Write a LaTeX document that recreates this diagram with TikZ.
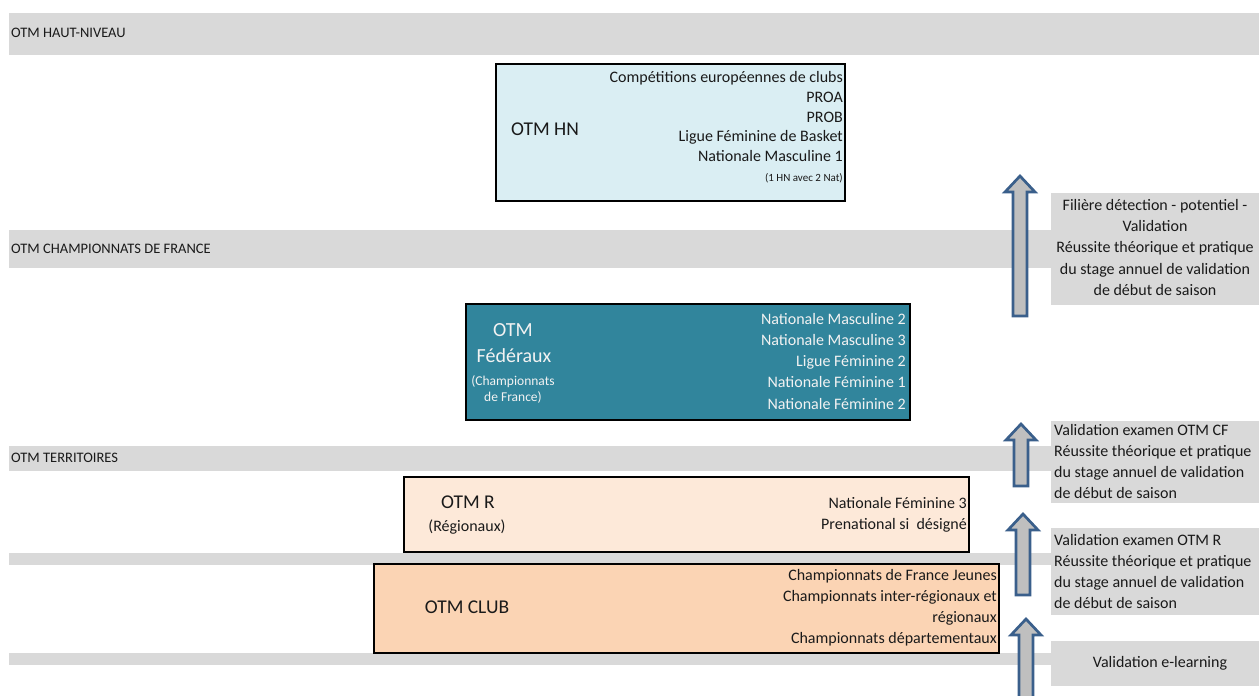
\documentclass[tikz,border=0pt]{standalone}
\usepackage{fontspec}
\setmainfont{Carlito}
\newcommand\myfs[1]{\fontsize{#1}{#1}\selectfont}
\definecolor{bandc}{HTML}{D9D9D9}
\definecolor{hnfill}{HTML}{DAEEF3}
\definecolor{fedfill}{HTML}{31859C}
\definecolor{rfill}{HTML}{FDE9D9}
\definecolor{clubfill}{HTML}{FBD4B4}
\definecolor{arrfill}{HTML}{BFBFBF}
\definecolor{arrline}{HTML}{3A5F8B}
\definecolor{fedtext}{HTML}{F2F2F2}
\definecolor{inktext}{HTML}{1A1A1A}
\begin{document}
\begin{tikzpicture}[x=1pt,y=-1pt,
  txt/.style={inner sep=0pt, text height=0.64em, text depth=0pt, font=\myfs{16}, text=inktext},
  lbl/.style={txt, font=\myfs{14.5}},
  big/.style={txt, font=\myfs{19.5}},
  small/.style={txt, font=\myfs{11}},
  fedbig/.style={txt, font=\myfs{20}, text=fedtext},
  fedsmall/.style={txt, font=\myfs{13.5}, text=fedtext},
  fedtxt/.style={txt, text=fedtext},
  bandbar/.style={fill=bandc, draw=none},
  levelbox/.style={draw=black, line width=1.6pt},
  sidebox/.style={fill=bandc, draw=none},
  uparrow/.style={fill=arrfill, draw=arrline, line width=2.7pt, line join=miter}]
\useasboundingbox (0,0) rectangle (1259,696);
\clip (0,0) rectangle (1259,696);
\fill[white] (0,0) rectangle (1259,696);
% bands
\path[bandbar] (9,13) rectangle (1259,55);
\path[bandbar] (9,230) rectangle (1259,268);
\path[bandbar] (9,446) rectangle (1259,471);
\path[bandbar] (9,553) rectangle (1259,565);
\path[bandbar] (9,653) rectangle (1259,665);
\node[lbl, anchor=west] (lhn) at (11,34) {OTM HAUT-NIVEAU};
\node[lbl, anchor=west] (lcf) at (11,250) {OTM CHAMPIONNATS DE FRANCE};
\node[lbl, anchor=west] (lter) at (11,459) {OTM TERRITOIRES};
% level boxes
\path[levelbox, fill=hnfill] (496,64) rectangle (845,201);
\path[levelbox, fill=fedfill] (466,304) rectangle (910,420);
\path[levelbox, fill=rfill] (404,477) rectangle (969,552);
\path[levelbox, fill=clubfill] (374,564) rectangle (999,653);
% HN
\node[big] (hnt) at (545,132) {OTM HN};
\foreach \t [count=\i] in {Compétitions européennes de clubs, PROA, PROB, Ligue Féminine de Basket, Nationale Masculine 1}
  \node[txt, anchor=east] (hn\i) at (843,60+19.6*\i) {\t};
\node[small, anchor=east] (hn6) at (843,178) {(1 HN avec 2 Nat)};
% Federaux
\node[fedbig] (f1) at (513,333) {OTM};
\node[fedbig] (f2) at (514,359) {Fédéraux};
\node[fedsmall] (f3) at (513,382) {(Championnats};
\node[fedsmall] (f4) at (513,398) {de France)};
\foreach \t [count=\i] in {Nationale Masculine 2, Nationale Masculine 3, Ligue Féminine 2, Nationale Féminine 1, Nationale Féminine 2}
  \node[fedtxt, anchor=east] (fr\i) at (906,299.75+21.25*\i) {\t};
% R
\node[big] (rt) at (468,505) {OTM R};
\node[txt] (rs) at (467,528) {(Régionaux)};
\node[txt, anchor=east] (r1) at (967,505) {Nationale Féminine 3};
\node[txt, anchor=east] (r2) at (967,526) {Prenational si\ \ désigné};
% CLUB
\node[big] (ct) at (467,610) {OTM CLUB};
\foreach \t [count=\i] in {Championnats de France Jeunes, Championnats inter-régionaux et, régionaux, Championnats départementaux}
  \node[txt, anchor=east] (c\i) at (997,556+21*\i) {\t};
% side boxes
\path[sidebox] (1051,193) rectangle (1259,305);
\path[sidebox] (1051,421) rectangle (1259,503);
\path[sidebox] (1051,528) rectangle (1259,615);
\path[sidebox] (1051,641) rectangle (1259,686);
\foreach \t [count=\i] in {Filière détection - potentiel -, Validation, Réussite théorique et pratique, du stage annuel de validation, de début de saison}
  \node[txt] (sa\i) at (1155,185.7+21.3*\i) {\t};
\foreach \t [count=\i] in {Validation examen OTM CF, Réussite théorique et pratique, du stage annuel de validation, de début de saison}
  \node[txt, anchor=west] (sb\i) at (1054,411+21*\i) {\t};
\foreach \t [count=\i] in {Validation examen OTM R, Réussite théorique et pratique, du stage annuel de validation, de début de saison}
  \node[txt, anchor=west] (sc\i) at (1054,521+21*\i) {\t};
\node[txt] (sd) at (1160,664) {Validation e-learning};
% arrows
\foreach \cx/\tp/\bt in {1020/176/316, 1021/424/486, 1023/514/595, 1026/619/720}
  \draw[uparrow] (\cx-7,\bt) -- (\cx-7,\tp+16) -- (\cx-15,\tp+16) -- (\cx,\tp) -- (\cx+15,\tp+16) -- (\cx+7,\tp+16) -- (\cx+7,\bt) -- cycle;
\end{tikzpicture}
\end{document}
